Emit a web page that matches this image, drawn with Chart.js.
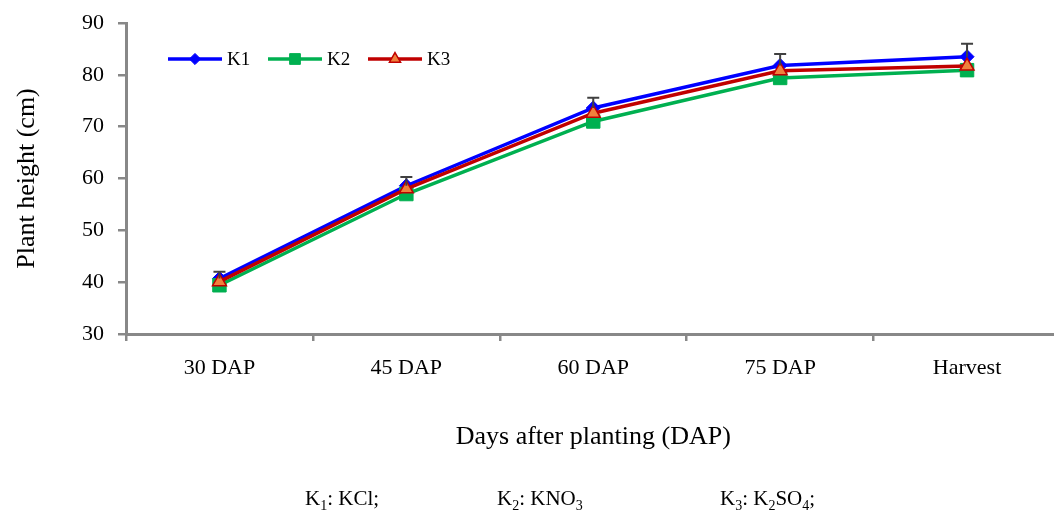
<!DOCTYPE html>
<html lang="en">
<head>
  <meta charset="UTF-8">
  <title>Plant height</title>
  <script src="https://cdn.jsdelivr.net/npm/chart.js"></script>
  <style>
    html, body {
      margin: 0;
      background: #fff;
      overflow: hidden;
      font-family: "Liberation Serif", "Times New Roman", serif;
    }
    #wrap {
      position: relative;
      width: 1054px;
      height: 528px;
      overflow: hidden;
    }
    .note {
      position: absolute;
      top: 486px;
      font-size: 21px;
      color: #000;
      white-space: nowrap;
    }
    .note sub { font-size: 14px; }
  </style>
</head>
<body>
  <div id="wrap">
    <canvas id="heightChart" width="1071" height="528"></canvas>
    <div class="note" style="left:305px">K<sub>1</sub>: KCl;</div>
    <div class="note" style="left:497px">K<sub>2</sub>: KNO<sub>3</sub></div>
    <div class="note" style="left:720px">K<sub>3</sub>: K<sub>2</sub>SO<sub>4</sub>;</div>
  </div>

  <script>
    const stages = ["30 DAP", "45 DAP", "60 DAP", "75 DAP", "Harvest"];
    const k1 = [40.7, 58.6, 73.6, 81.8, 83.5];
    const k2 = [39.4, 57.0, 71.0, 79.4, 80.9];
    const k3 = [40.1, 58.0, 72.6, 80.8, 81.7];
    const k1Err = [1.3, 1.7, 2.0, 2.2, 2.5];

    const serif = "'Liberation Serif', 'Times New Roman', serif";

    // error bars (upper only) on K1, plus the line+marker legend inside the plot
    const extras = {
      id: "extras",
      afterDatasetsDraw(chart) {
        const ctx = chart.ctx;
        const y = chart.scales.y;
        const meta = chart.getDatasetMeta(0);
        ctx.save();
        ctx.strokeStyle = "#404040";
        ctx.lineWidth = 2;
        meta.data.forEach((pt, i) => {
          const top = y.getPixelForValue(k1[i] + k1Err[i]);
          ctx.beginPath();
          ctx.moveTo(pt.x, pt.y);
          ctx.lineTo(pt.x, top);
          ctx.moveTo(pt.x - 6, top);
          ctx.lineTo(pt.x + 6, top);
          ctx.stroke();
        });
        ctx.restore();
      },
      afterDraw(chart) {
        const ctx = chart.ctx;
        const starts = [168, 268, 368];
        ctx.save();
        chart.data.datasets.forEach((ds, i) => {
          const x0 = starts[i], yy = 59;
          ctx.strokeStyle = ds.borderColor;
          ctx.lineWidth = 3.5;
          ctx.beginPath();
          ctx.moveTo(x0, yy);
          ctx.lineTo(x0 + 54, yy);
          ctx.stroke();
          ctx.fillStyle = ds.pointBackgroundColor;
          ctx.strokeStyle = ds.pointBorderColor;
          ctx.lineWidth = ds.pointBorderWidth || 1;
          Chart.helpers.drawPoint(ctx, {
            pointStyle: ds.pointStyle,
            radius: ds.pointRadius * 0.8,
            rotation: 0,
            borderWidth: ds.pointBorderWidth || 1
          }, x0 + 27, yy);
          ctx.fillStyle = "#000";
          ctx.font = "19px " + serif;
          ctx.textBaseline = "middle";
          ctx.fillText(ds.label, x0 + 59, yy + 1);
        });
        ctx.restore();
      }
    };

    const ctx = document.getElementById("heightChart").getContext("2d");
    new Chart(ctx, {
      type: "line",
      data: {
        labels: stages,
        datasets: [
          {
            label: "K1", data: k1, order: 2,
            borderColor: "#0000ff", borderWidth: 3.5,
            pointStyle: "rectRot", pointRadius: 7,
            pointBackgroundColor: "#0000ff", pointBorderColor: "#0000ff", pointBorderWidth: 1
          },
          {
            label: "K2", data: k2, order: 1,
            borderColor: "#00b050", borderWidth: 3.5,
            pointStyle: "rect", pointRadius: 9.5,
            pointBackgroundColor: "#00b050", pointBorderColor: "#00b050", pointBorderWidth: 1
          },
          {
            label: "K3", data: k3, order: 0,
            borderColor: "#c00000", borderWidth: 3.5,
            pointStyle: "triangle", pointRadius: 8,
            pointBackgroundColor: "#f0803c", pointBorderColor: "#c00000",
            pointBorderWidth: 1.5
          }
        ]
      },
      options: {
        responsive: false,
        animation: false,
        layout: { padding: { top: 23, right: 0, bottom: 0, left: 0 } },
        plugins: {
          legend: { display: false },
          tooltip: { enabled: false }
        },
        scales: {
          x: {
            offset: true,
            grid: {
              offset: true, drawOnChartArea: false, drawTicks: true,
              tickLength: 7, color: "#888", lineWidth: 2.5
            },
            border: { color: "#888", width: 3 },
            ticks: { color: "#000", padding: 14, font: { family: serif, size: 22 } },
            title: {
              display: true, text: "Days after planting (DAP)", color: "#000",
              font: { family: serif, size: 26 }, padding: { top: 0, bottom: 75 }
            },
            afterFit(scale) { scale.height = 194; }
          },
          y: {
            min: 30, max: 90,
            ticks: { stepSize: 10, color: "#000", padding: 14, font: { family: serif, size: 22, lineHeight: 0.7 } },
            grid: {
              drawOnChartArea: false, drawTicks: true,
              tickLength: 8, color: "#888", lineWidth: 2.5
            },
            border: { color: "#888", width: 3 },
            title: {
              display: true, text: "Plant height (cm)", color: "#000",
              font: { family: serif, size: 26 }, padding: { top: 12, bottom: 0 }
            },
            afterFit(scale) { scale.width = 126; }
          }
        }
      },
      plugins: [extras]
    });
  </script>
</body>
</html>
